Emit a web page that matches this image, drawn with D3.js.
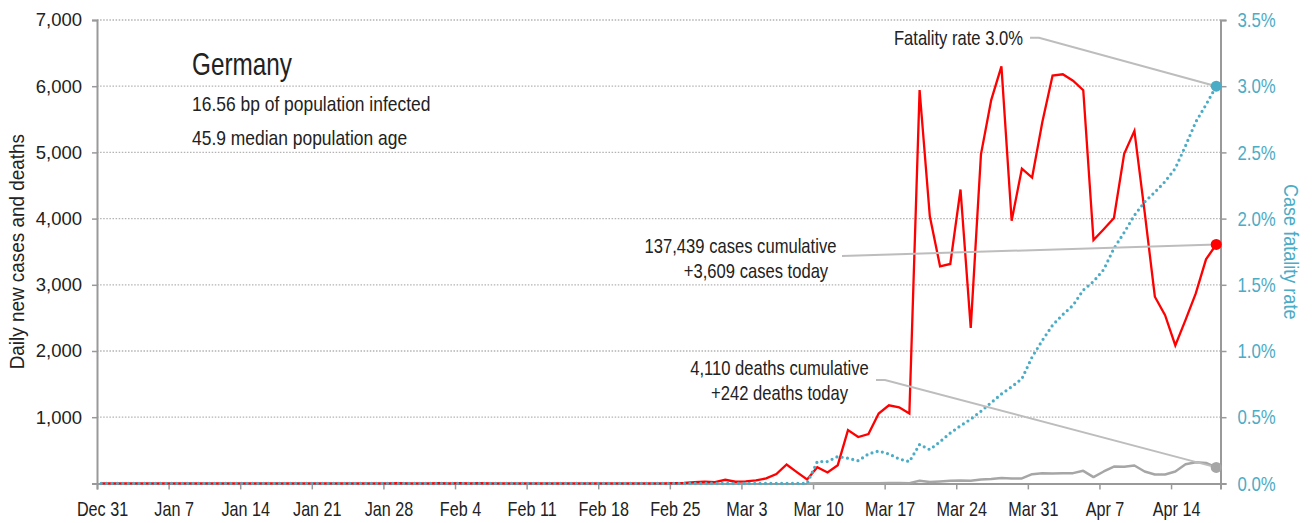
<!DOCTYPE html>
<html>
<head>
<meta charset="utf-8">
<script src="https://cdn.jsdelivr.net/npm/d3@7"></script>
<style>
body { margin: 0; background: #fff; }
text { font-family: "Liberation Sans", Arial, sans-serif; fill: #222; }
</style>
</head>
<body>
<svg id="chart"></svg>
<script>
// data: one value per day starting Dec 31, 2019
let startDay = "2019-12-31";

let dailyCases = [
  0,0,0,0,0,0,0,0,0,0,
  0,0,0,0,0,0,0,0,0,0,
  0,0,0,0,0,0,0,0,1,3,
  0,1,1,2,0,2,0,2,0,0,
  0,0,0,0,0,0,0,0,0,0,
  0,0,0,0,0,0,2,6,18,25,
  20,55,25,30,45,75,140,285,170,60,
  245,165,275,805,700,745,1055,1180,1150,1055,
  5943,4035,3280,3315,4440,2350,4970,5790,6300,3968,
  4755,4620,5460,6160,6180,6083,5940,3677,3840,4010,
  4980,5325,4100,2820,2540,2085,2470,2870,3385,3609
];

// deaths start being reported on Mar 9
let dailyDeaths = [
  null,null,null,null,null,null,null,null,null,null,
  null,null,null,null,null,null,null,null,null,null,
  null,null,null,null,null,null,null,null,null,null,
  null,null,null,null,null,null,null,null,null,null,
  null,null,null,null,null,null,null,null,null,null,
  null,null,null,null,null,null,null,null,null,null,
  null,null,null,null,null,null,null,null,null,0,
  2,1,2,2,4,1,4,5,6,4,
  40,20,30,40,45,40,60,65,80,75,
  75,140,155,150,155,155,190,95,180,255,
  250,270,180,135,135,180,290,320,310,242
];

// case fatality rate, %
let fatalityRate = [
  0,0,0,0,0,0,0,0,0,0,
  0,0,0,0,0,0,0,0,0,0,
  0,0,0,0,0,0,0,0,0,0,
  0,0,0,0,0,0,0,0,0,0,
  0,0,0,0,0,0,0,0,0,0,
  0,0,0,0,0,0,0,0,0,0,
  0,0,0,0,0,0,0,0,0,0,
  0.165,0.165,0.203,0.19,0.171,0.222,0.245,0.222,0.185,0.164,
  0.294,0.255,0.315,0.38,0.435,0.485,0.545,0.61,0.675,0.73,
  0.79,0.955,1.08,1.195,1.275,1.345,1.46,1.525,1.615,1.775,
  1.895,2.025,2.125,2.2,2.28,2.38,2.55,2.73,2.86,3.0
];

let yTicks = [0, 1000, 2000, 3000, 4000, 5000, 6000, 7000];
let rateTicks = [0, 0.5, 1.0, 1.5, 2.0, 2.5, 3.0, 3.5];
let xTickDays = ["2019-12-31","2020-01-07","2020-01-14","2020-01-21","2020-01-28","2020-02-04",
  "2020-02-11","2020-02-18","2020-02-25","2020-03-03","2020-03-10","2020-03-17",
  "2020-03-24","2020-03-31","2020-04-07","2020-04-14"];

let country = "Germany";
let subLines = ["16.56 bp of population infected", "45.9 median population age"];
let totalCases = 137439, totalDeaths = 4110;

// layout
let svgWidth = 1315;
let svgHeight = 523;
let margin = { top: 20, right: 94.5, bottom: 39.6, left: 97 };

let parse = d3.utcParse("%Y-%m-%d");
let day0 = parse(startDay);
let lastDay = d3.utcDay.offset(day0, dailyCases.length - 1);

let svg = d3.select("#chart")
  .attr("width", svgWidth)
  .attr("height", svgHeight);

let x = d3.scaleUtc()
  .domain([day0, d3.utcHour.offset(lastDay, 20)])
  .range([margin.left, svgWidth - margin.right]);

let y = d3.scaleLinear()
  .domain([0, 7000])
  .range([svgHeight - margin.bottom, margin.top]);

let yRate = d3.scaleLinear()
  .domain([0, 3.5])
  .range([svgHeight - margin.bottom, margin.top]);

// points sit a little after midnight, like the original
let px = (i) => x(d3.utcHour.offset(d3.utcDay.offset(day0, i), 10));

// the original uses a condensed face: squeeze text horizontally
function squeeze(sel, k) {
  sel.each(function () {
    let w = this.getComputedTextLength();
    d3.select(this).attr("textLength", w * k).attr("lengthAdjust", "spacingAndGlyphs");
  });
}

// gridlines
svg.append("g")
  .selectAll("line")
  .data(yTicks.filter(d => d > 0))
  .enter()
  .append("line")
  .attr("x1", x.range()[0])
  .attr("x2", x.range()[1])
  .attr("y1", d => y(d))
  .attr("y2", d => y(d))
  .attr("stroke", "#b3b3b3")
  .attr("stroke-width", 1.3)
  .attr("stroke-dasharray", "1.5,1.6");

// axes
let fmtDay = d3.utcFormat("%b %-d");

let xAxis = svg.append("g")
  .attr("transform", "translate(0," + y(0) + ")")
  .call(d3.axisBottom(x)
    .tickValues(xTickDays.map(parse))
    .tickSize(6)
    .tickPadding(12)
    .tickFormat(fmtDay));

xAxis.selectAll("text").attr("dx", 5).style("font-size", "21px").style("fill", "#222");
squeeze(xAxis.selectAll("text"), 0.77);

let yAxis = svg.append("g")
  .attr("transform", "translate(" + x.range()[0] + ",0)")
  .call(d3.axisLeft(y)
    .tickValues(yTicks)
    .tickSize(5)
    .tickPadding(10)
    .tickFormat(d => d === 0 ? "" : d3.format(",")(d)));

yAxis.selectAll("text").style("font-size", "18.5px").style("fill", "#222");

let rAxis = svg.append("g")
  .attr("transform", "translate(" + x.range()[1] + ",0)")
  .call(d3.axisRight(yRate)
    .tickValues(rateTicks)
    .tickSize(6)
    .tickPadding(11)
    .tickFormat(d => d.toFixed(1) + "%"));

rAxis.selectAll("text").style("font-size", "21px").style("fill", "#4bacc6");
squeeze(rAxis.selectAll("text"), 0.8);

[xAxis, yAxis, rAxis].forEach(g => {
  g.select(".domain").attr("stroke", "#999").attr("stroke-width", 2);
  g.selectAll(".tick line").attr("stroke", "#999").attr("stroke-width", 1.5);
});

// axis titles
let leftTitle = svg.append("text")
  .attr("transform", "translate(24," + y(3500) + ") rotate(-90)")
  .attr("text-anchor", "middle")
  .style("font-size", "21px")
  .text("Daily new cases and deaths");
squeeze(leftTitle, 0.9);

let rightTitle = svg.append("text")
  .attr("transform", "translate(1284," + y(3500) + ") rotate(90)")
  .attr("text-anchor", "middle")
  .style("font-size", "21px")
  .style("fill", "#4bacc6")
  .text("Case fatality rate");
squeeze(rightTitle, 0.86);

// series
let caseLine = d3.line()
  .x((d, i) => px(i))
  .y(d => y(d));

let deathLine = d3.line()
  .defined(d => d != null)
  .x((d, i) => px(i))
  .y(d => y(d));

let rateLine = d3.line()
  .x((d, i) => px(i))
  .y(d => yRate(d));

svg.append("path")
  .datum(dailyDeaths)
  .attr("d", deathLine)
  .attr("fill", "none")
  .attr("stroke", "#a6a6a6")
  .attr("stroke-width", 2.5)
  .attr("stroke-linejoin", "round");

svg.append("path")
  .datum(dailyCases)
  .attr("d", caseLine)
  .attr("fill", "none")
  .attr("stroke", "#ff0000")
  .attr("stroke-width", 2.3)
  .attr("stroke-linejoin", "miter");

svg.append("path")
  .datum(fatalityRate)
  .attr("d", rateLine)
  .attr("fill", "none")
  .attr("stroke", "#4bacc6")
  .attr("stroke-width", 3.2)
  .attr("stroke-linecap", "round")
  .attr("stroke-dasharray", "0,5.4");

// end labels with leader lines
let last = dailyCases.length - 1;
let endX = px(last);

let leader = d3.line();
let notes = [
  { pts: [[1030, 37.7], [1039, 37.7], [endX, yRate(fatalityRate[last])]] },
  { pts: [[842, 256], [endX, y(dailyCases[last])]] },
  { pts: [[876, 380], [885, 380], [endX, y(dailyDeaths[last])]] }
];

svg.append("g")
  .selectAll("path")
  .data(notes)
  .enter()
  .append("path")
  .attr("d", d => leader(d.pts))
  .attr("fill", "none")
  .attr("stroke", "#bdbdbd")
  .attr("stroke-width", 2);

let ends = [
  { v: yRate(fatalityRate[last]), c: "#4bacc6" },
  { v: y(dailyCases[last]), c: "#ff0000" },
  { v: y(dailyDeaths[last]), c: "#a6a6a6" }
];

svg.append("g")
  .selectAll("circle")
  .data(ends)
  .enter()
  .append("circle")
  .attr("cx", endX)
  .attr("cy", d => d.v)
  .attr("r", 5.5)
  .attr("fill", d => d.c);

let fmt = d3.format(",");

let labels = [
  { t: "Fatality rate " + fatalityRate[last].toFixed(1) + "%", x: 1023, y: 45, a: "end" },
  { t: fmt(totalCases) + " cases cumulative", x: 740.5, y: 253, a: "middle" },
  { t: "+" + fmt(dailyCases[last]) + " cases today", x: 756, y: 278, a: "middle" },
  { t: fmt(totalDeaths) + " deaths cumulative", x: 779.5, y: 375, a: "middle" },
  { t: "+" + fmt(dailyDeaths[last]) + " deaths today", x: 779.5, y: 400, a: "middle" }
];

let noteText = svg.append("g")
  .selectAll("text")
  .data(labels)
  .enter()
  .append("text")
  .attr("x", d => d.x)
  .attr("y", d => d.y)
  .attr("text-anchor", d => d.a)
  .style("font-size", "21px")
  .text(d => d.t);
squeeze(noteText, 0.79);

// title block
let title = svg.append("text")
  .attr("x", 192).attr("y", 75)
  .style("font-size", "32px")
  .text(country);
squeeze(title, 0.76);

let subs = svg.selectAll(".sub")
  .data(subLines)
  .enter()
  .append("text")
  .attr("class", "sub")
  .attr("x", 192)
  .attr("y", (d, i) => 111 + i * 34)
  .style("font-size", "21px")
  .text(d => d);
squeeze(subs, 0.83);
</script>
</body>
</html>
